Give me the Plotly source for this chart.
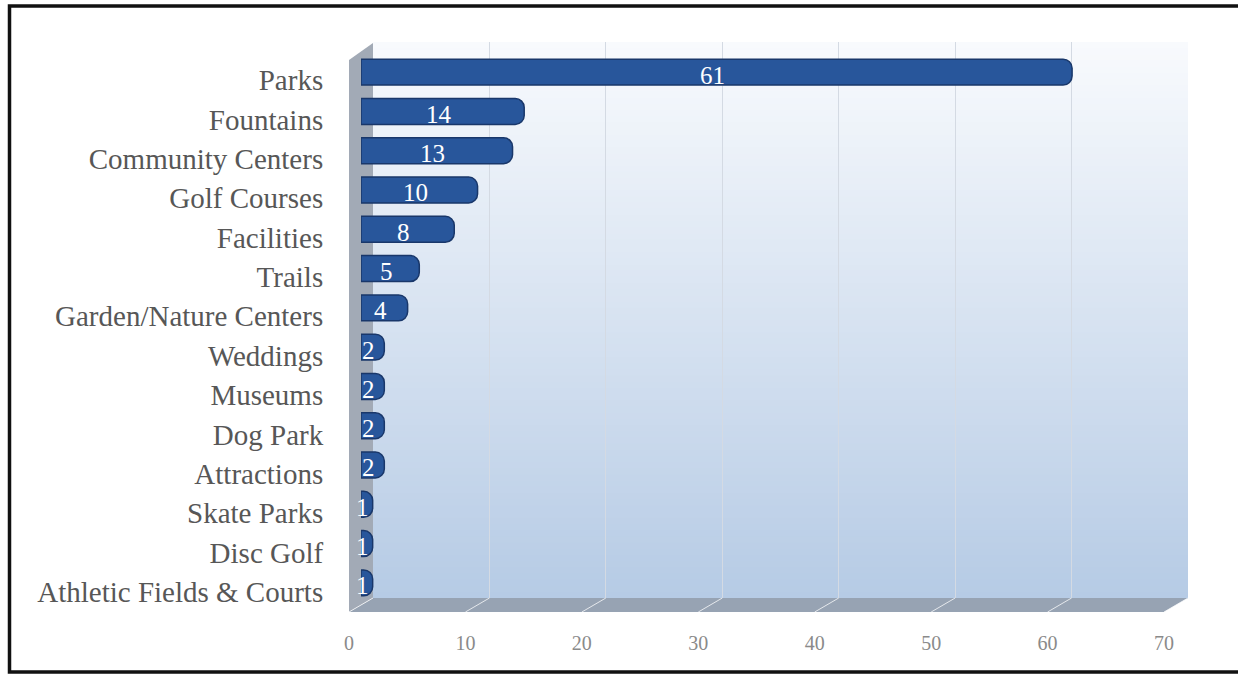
import plotly.graph_objects as go

categories = ["Parks", "Fountains", "Community Centers", "Golf Courses", "Facilities",
              "Trails", "Garden/Nature Centers", "Weddings", "Museums", "Dog Park",
              "Attractions", "Skate Parks", "Disc Golf", "Athletic Fields & Courts"]
values = [61, 14, 13, 10, 8, 5, 4, 2, 2, 2, 2, 1, 1, 1]
x_ticks = [0, 10, 20, 30, 40, 50, 60, 70]

W, H = 1238, 675
def px(x): return x / W
def py(y): return 1 - y / H

n = len(categories)
FRONT = (349, 1164)   # front plane pixel span of 0..70
MID = (361, 1177)     # bars plane
BACK = (373, 1188)    # back wall
XMAX = 70
idx = list(range(n))

fig = go.Figure()
# back-wall subplot (xy) drawn first: invisible helper so its grid is drawn
fig.add_trace(go.Scatter(x=values, y=[0.5] * n, xaxis="x", yaxis="y", mode="markers",
                         marker=dict(opacity=0), hoverinfo="skip", showlegend=False))
# front-plane helper (invisible) so category/tick labels are drawn
fig.add_trace(go.Scatter(x=values, y=idx, xaxis="x2", yaxis="y2", mode="markers",
                         marker=dict(opacity=0), hoverinfo="skip", showlegend=False))
# bars on top subplot (x3y3)
fig.add_trace(go.Bar(
    x=values, y=categories, orientation="h",
    xaxis="x3", yaxis="y3",
    width=0.66,
    marker=dict(color="#28569b", line=dict(color="#19376a", width=1.5), cornerradius=9),
    hoverinfo="skip", showlegend=False,
))

# value labels centred in each bar
annotations = []
for cat, v in zip(categories, values):
    annotations.append(dict(x=v / 2, y=cat, xref="x3", yref="y3", text=str(v),
                            showarrow=False, xshift=-4, yshift=-3,
                            font=dict(family="Liberation Serif", size=25, color="white")))

shapes = []
# back wall gradient
top_c = (248, 250, 253)
bot_c = (182, 203, 229)
y_top, y_bot = 42, 598
N = 90
for i in range(N):
    t = i / (N - 1)
    c = tuple(round(top_c[k] + (bot_c[k] - top_c[k]) * t) for k in range(3))
    y0 = y_top + (y_bot - y_top) * i / N
    y1 = y_top + (y_bot - y_top) * (i + 1) / N + 0.8
    shapes.append(dict(type="rect", xref="paper", yref="paper", layer="below",
                       x0=px(BACK[0]), x1=px(BACK[1]), y0=py(y1), y1=py(y0),
                       fillcolor="rgb(%d,%d,%d)" % c, line=dict(width=0)))
# side wall
shapes.append(dict(type="path", xref="paper", yref="paper", layer="below",
                   path="M %f %f L %f %f L %f %f L %f %f Z" % (
                       px(349), py(60), px(373), py(43), px(373), py(598), px(349), py(612)),
                   fillcolor="#a2aab6", line=dict(width=0)))
# floor
shapes.append(dict(type="path", xref="paper", yref="paper", layer="below",
                   path="M %f %f L %f %f L %f %f L %f %f Z" % (
                       px(349), py(612), px(1164), py(612), px(1188), py(598), px(373), py(598)),
                   fillcolor="#97a3b3", line=dict(width=0)))
# floor tick slants
for v in x_ticks:
    xf = FRONT[0] + (FRONT[1] - FRONT[0]) * v / XMAX
    xb = BACK[0] + (BACK[1] - BACK[0]) * v / XMAX
    shapes.append(dict(type="line", xref="paper", yref="paper", layer="below",
                       x0=px(xf), y0=py(612), x1=px(xb), y1=py(598),
                       line=dict(color="rgba(255,255,255,0.75)", width=1)))
# outer frame
shapes.append(dict(type="rect", xref="paper", yref="paper", layer="above",
                   x0=px(9.5), x1=px(1250), y0=py(672), y1=py(6),
                   line=dict(color="#111111", width=3.5), fillcolor="rgba(0,0,0,0)"))

fig.update_layout(
    width=W, height=H, autosize=False,
    margin=dict(l=0, r=0, t=0, b=0),
    paper_bgcolor="white", plot_bgcolor="rgba(0,0,0,0)",
    showlegend=False,
    shapes=shapes,
    annotations=annotations,
    # back wall grid
    xaxis=dict(domain=[px(BACK[0]), px(BACK[1])], range=[0, XMAX], anchor="y",
               tickmode="array", tickvals=x_ticks, showticklabels=False,
               showgrid=True, gridcolor="#d4dae3", gridwidth=1.2,
               zeroline=False, showline=False, automargin=False, fixedrange=True),
    yaxis=dict(domain=[py(598), py(42)], range=[0, 1], anchor="x",
               showgrid=False, showticklabels=False, zeroline=False, showline=False,
               automargin=False, fixedrange=True),
    # front plane labels
    xaxis2=dict(domain=[px(FRONT[0]), px(FRONT[1])], range=[0, XMAX], anchor="y2",
                tickmode="array", tickvals=x_ticks, ticktext=[str(v) for v in x_ticks],
                ticks="outside", ticklen=13, tickcolor="rgba(0,0,0,0)",
                tickfont=dict(family="Liberation Serif", size=20, color="#8a8a8a"),
                showgrid=False, zeroline=False, showline=False, automargin=False,
                fixedrange=True),
    yaxis2=dict(domain=[py(611.5), py(60.5)], range=[n - 0.5, -0.5], anchor="x2",
                tickmode="array", tickvals=idx, ticktext=categories,
                ticks="outside", ticklen=19, tickcolor="rgba(0,0,0,0)",
                tickfont=dict(family="Liberation Serif", size=29, color="#575757"),
                showgrid=False, zeroline=False, showline=False, automargin=False,
                fixedrange=True),
    # bars
    xaxis3=dict(domain=[px(MID[0]), px(MID[1])], range=[0, XMAX], anchor="y3",
                showgrid=False, zeroline=False, showticklabels=False, showline=False,
                automargin=False, fixedrange=True),
    yaxis3=dict(domain=[py(602.5), py(52.5)], type="category", categoryorder="array",
                categoryarray=categories, range=[n - 0.5, -0.5], anchor="x3",
                showgrid=False, showticklabels=False, showline=False, zeroline=False,
                automargin=False, fixedrange=True),
)

fig.write_html("out.html", config={"displayModeBar": False},
               post_script="document.body.style.margin='0px';")
